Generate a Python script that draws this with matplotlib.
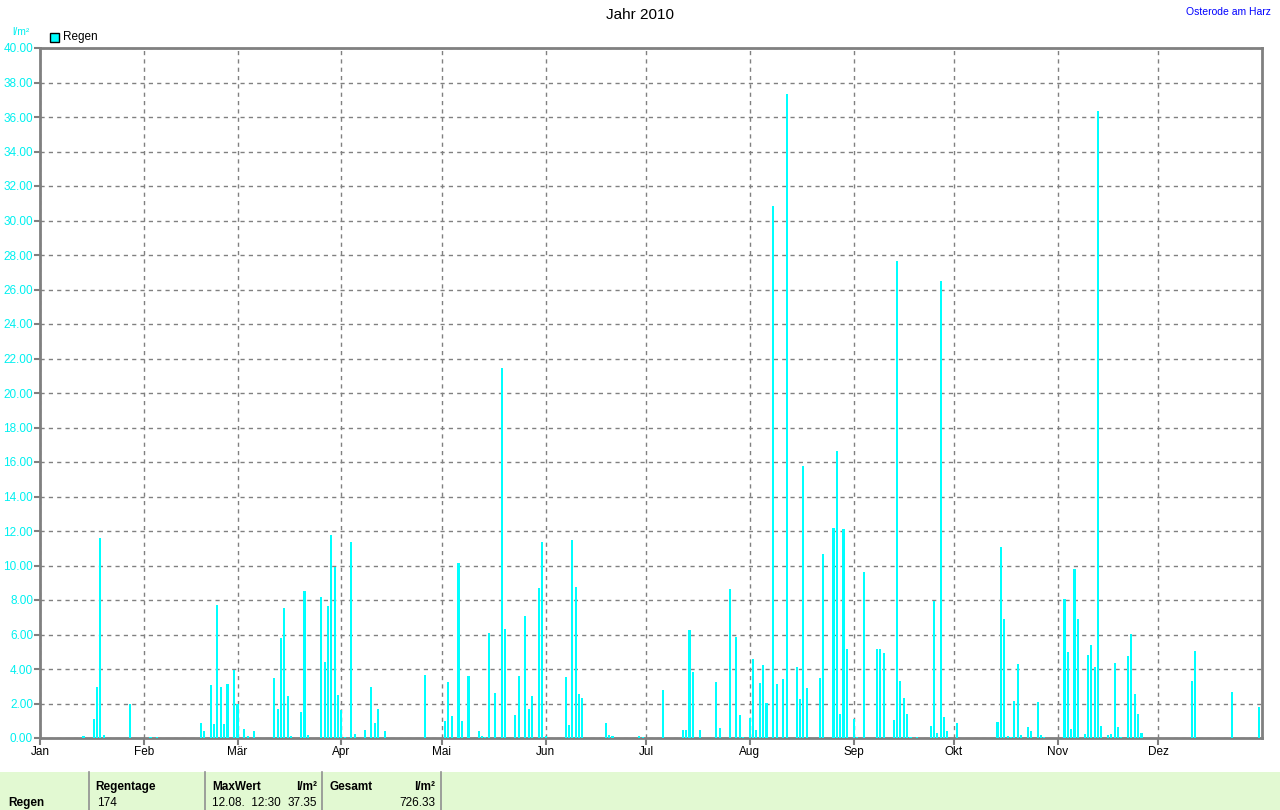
import matplotlib
matplotlib.use("Agg")
import matplotlib.pyplot as plt
from matplotlib.patches import Rectangle

# rain per day, day index counted from 1 Jan 2010 (0 = 1 Jan)
rain_day = [
    13, 16, 17, 18, 19, 27, 33, 35, 48, 49, 51, 52, 53, 54, 55, 56, 58, 59,
    61, 62, 64, 70, 71, 72, 73, 74, 75, 78, 79, 80, 84, 85, 86, 87, 88, 89,
    90, 91, 93, 94, 97, 99, 100, 101, 103, 115, 121, 122, 123, 125, 126, 128,
    131, 132, 133, 134, 136, 138, 139, 142, 143, 145, 146, 147, 149, 150, 151,
    157, 158, 159, 160, 161, 162, 169, 170, 171, 179, 180, 186, 192, 193, 194,
    195, 197, 202, 203, 206, 208, 209, 210, 212, 213, 214, 215, 216, 217, 219,
    220, 222, 223, 226, 227, 228, 229, 233, 234, 237, 238, 239, 240, 241, 243,
    244, 246, 250, 251, 252, 255, 256, 257, 258, 259, 260, 262, 266, 267, 268,
    269, 270, 271, 274, 286, 287, 288, 289, 290, 291, 292, 293, 295, 296, 298,
    299, 300, 306, 307, 308, 309, 310, 312, 313, 314, 315, 316, 317, 319, 320,
    321, 322, 323, 325, 326, 327, 328, 329, 344, 345, 356, 364,
]
rain_mm = [
    0.10, 1.08, 2.94, 11.60, 0.15, 1.95, 0.05, 0.05, 0.85, 0.39, 3.05, 0.79, 7.69, 2.94, 0.79, 3.11, 3.92, 1.95,
    0.50, 0.10, 0.39, 3.46, 1.66, 5.78, 7.52, 2.42, 0.10, 1.49, 8.50, 0.20, 8.15, 4.39, 7.63, 11.75, 9.90, 2.47,
    1.60, 0.05, 11.34, 0.21, 0.44, 2.94, 0.85, 1.66, 0.39, 3.63, 1.00, 3.27, 1.30, 10.16, 1.00, 3.61,
    0.43, 0.10, 0.05, 6.10, 2.63, 21.47, 6.34, 1.35, 3.61, 7.09, 1.70, 2.45, 8.71, 11.38, 0.10,
    3.56, 0.77, 11.50, 8.77, 2.57, 2.34, 0.89, 0.20, 0.14, 0.14, 0.05, 2.80, 0.48, 0.48, 6.28,
    3.84, 0.48, 3.27, 0.60, 8.66, 5.87, 1.35, 0.05, 1.18, 4.60, 0.48, 3.21, 4.25, 2.05, 30.85,
    3.15, 3.44, 37.35, 4.12, 2.28, 15.74, 2.92, 3.48, 10.66, 12.16, 16.62, 1.40, 12.11, 5.17, 1.13,
    0.05, 9.63, 5.14, 5.14, 4.91, 1.02, 27.63, 3.29, 2.30, 1.37, 0.05, 0.05, 0.68, 7.96, 0.27,
    26.47, 1.20, 0.39, 0.85, 0.91, 11.05, 6.88, 0.10, 0.05, 2.13, 4.27, 0.15, 0.62, 0.39, 2.07,
    0.15, 0.05, 8.04, 4.97, 0.50, 9.78, 6.88, 0.21, 4.79, 5.37, 4.10, 36.35, 0.68, 0.15, 0.21,
    4.33, 0.62, 0.05, 4.73, 6.01, 2.53, 1.37, 0.27, 3.29, 5.02, 2.65, 1.78,
]

month_start = [0, 31, 59, 90, 120, 151, 181, 212, 243, 273, 304, 334]
month_names = ["Jan", "Feb", "Mär", "Apr", "Mai", "Jun", "Jul", "Aug", "Sep", "Okt", "Nov", "Dez"]
y_ticks = list(range(0, 41, 2))

plt.rcParams['font.family'] = ['Liberation Sans', 'DejaVu Sans']

fig = plt.figure(figsize=(12.8, 8.1), dpi=100)
ax = fig.add_axes([40 / 1280, 1 - 738 / 810, 1222 / 1280, 690 / 810])

ax.bar(rain_day, rain_mm, width=0.62, color="#00ffff", zorder=3)

ax.set_xlim(0, 365)
ax.set_ylim(0, 40)
ax.set_xticks(month_start)
ax.set_xticklabels(month_names)
ax.set_yticks(y_ticks)
ax.set_yticklabels([f"{v:.2f}" for v in y_ticks])

ax.grid(True, color="#808080", linestyle=(0, (3, 3)), linewidth=1, zorder=1)
ax.tick_params(axis="x", colors="#808080", labelcolor="black", labelsize=8.5, length=5, width=1.5, pad=1)
ax.tick_params(axis="y", colors="#808080", labelcolor="#00f0f0", labelsize=8.5, length=4, width=1.5, pad=1)
for sp in ax.spines.values():
    sp.set_color("#808080")
    sp.set_linewidth(2)

fig.text(0.5, 1 - 15 / 810, "Jahr 2010", ha="center", va="center", fontsize=11)
fig.text(1271 / 1280, 1 - 12 / 810, "Osterode am Harz", ha="right", va="center", fontsize=7.5, color="#0000ff")
fig.text(21 / 1280, 1 - 32 / 810, "l/m²", ha="center", va="center", fontsize=7.5, color="#00f0f0")

# legend box
fig.patches.append(Rectangle((50 / 1280, 1 - 42 / 810), 9 / 1280, 9 / 810, transform=fig.transFigure,
                             facecolor="#00ffff", edgecolor="black", linewidth=1))
fig.text(63 / 1280, 1 - 37 / 810, "Regen", ha="left", va="center", fontsize=8.5)

# summary table at the bottom
fig.patches.append(Rectangle((0, 0), 1, 38 / 810, transform=fig.transFigure,
                             facecolor="#e2f9d2", edgecolor="none"))
for xs in [89, 205, 322, 441]:
    fig.add_artist(plt.Line2D([xs / 1280, xs / 1280], [0, 38 / 810], transform=fig.transFigure,
                              color="#909090", linewidth=1.2))

row1 = 1 - 787 / 810
row2 = 1 - 803 / 810
fig.text(8 / 1280, row2, "Regen", ha="left", va="center", fontsize=8.5, fontweight="bold")
fig.text(95 / 1280, row1, "Regentage", ha="left", va="center", fontsize=8.5, fontweight="bold")
fig.text(97 / 1280, row2, "174", ha="left", va="center", fontsize=8.5)
fig.text(212 / 1280, row1, "MaxWert", ha="left", va="center", fontsize=8.5, fontweight="bold")
fig.text(317 / 1280, row1, "l/m²", ha="right", va="center", fontsize=8.5, fontweight="bold")
fig.text(212 / 1280, row2, "12.08.  12:30", ha="left", va="center", fontsize=8.5)
fig.text(317 / 1280, row2, "37.35", ha="right", va="center", fontsize=8.5)
fig.text(330 / 1280, row1, "Gesamt", ha="left", va="center", fontsize=8.5, fontweight="bold")
fig.text(435 / 1280, row1, "l/m²", ha="right", va="center", fontsize=8.5, fontweight="bold")
fig.text(435 / 1280, row2, "726.33", ha="right", va="center", fontsize=8.5)

fig.savefig("out.png", dpi=100)
